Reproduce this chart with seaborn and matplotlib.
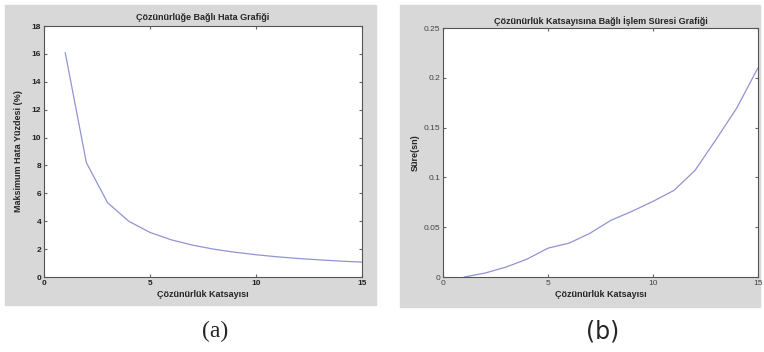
import matplotlib.pyplot as plt
from matplotlib.patches import Rectangle
import seaborn as sns
import pandas as pd

# Çözünürlük katsayısı
katsayi = [1, 2, 3, 4, 5, 6, 7, 8, 9, 10, 11, 12, 13, 14, 15]
# (a) maksimum hata yüzdesi
hata = [16.1, 8.2, 5.33, 4.0, 3.2, 2.67, 2.29, 2.0, 1.78, 1.6, 1.45, 1.33, 1.23, 1.14, 1.07]
# (b) işlem süresi (sn)
sure = [0.0, 0.004, 0.01, 0.018, 0.029, 0.034, 0.044, 0.057, 0.066, 0.076,
        0.087, 0.107, 0.138, 0.170, 0.210]

df = pd.DataFrame({"k": katsayi, "hata": hata, "sure": sure})

sns.set_style("ticks")
plt.rcParams['font.family'] = ['Liberation Sans', 'DejaVu Sans']

fig = plt.figure(figsize=(7.64, 3.52), dpi=100)
gray = "#d8d8d8"
fig.add_artist(Rectangle((0.0065, 0.134), 0.485, 0.852, transform=fig.transFigure,
                         color=gray, zorder=-5))
fig.add_artist(Rectangle((0.524, 0.128), 0.471, 0.858, transform=fig.transFigure,
                         color=gray, zorder=-5))

line_col = "#9094d4"
ax1 = fig.add_axes([0.0576, 0.213, 0.416, 0.713])
ax2 = fig.add_axes([0.580, 0.213, 0.412, 0.707])

sns.lineplot(data=df, x="k", y="hata", ax=ax1, color=line_col, lw=0.9)
ax1.set_xlim(0, 15)
ax1.set_ylim(0, 18)
ax1.set_xticks([0, 5, 10, 15])
ax1.set_yticks(range(0, 19, 2))
ax1.set_title("Çözünürlüğe Bağlı Hata Grafiği", fontsize=6.5, fontweight="bold", pad=4)
ax1.set_xlabel("Çözünürlük Katsayısı", fontsize=6.5, fontweight="bold", labelpad=2)
ax1.set_ylabel("Maksimum Hata Yüzdesi (%)", fontsize=6.5, fontweight="bold", labelpad=6)

sns.lineplot(data=df, x="k", y="sure", ax=ax2, color=line_col, lw=0.9)
ax2.set_xlim(0, 15)
ax2.set_ylim(0, 0.25)
ax2.set_xticks([0, 5, 10, 15])
ax2.set_yticks([0, 0.05, 0.1, 0.15, 0.2, 0.25])
ax2.set_yticklabels(["0", "0.05", "0.1", "0.15", "0.2", "0.25"])
ax2.set_title("Çözünürlük Katsayısına Bağlı İşlem Süresi Grafiği", fontsize=6.5,
              fontweight="bold", pad=3)
ax2.set_xlabel("Çözünürlük Katsayısı", fontsize=6.5, fontweight="bold", labelpad=2)
ax2.set_ylabel("Süre(sn)", fontsize=6.5, fontweight="bold", labelpad=3)

for ax in (ax1, ax2):
    ax.set_facecolor("white")
    ax.tick_params(direction="in", length=2, labelsize=6, top=True, right=True,
                   pad=2, color="#666666", labelcolor="#444444")
    for s in ax.spines.values():
        s.set_visible(True)
        s.set_color("#555555")
        s.set_linewidth(0.8)

for lab in ax1.get_xticklabels() + ax1.get_yticklabels():
    lab.set_fontweight("bold")
    lab.set_color("#222222")

fig.text(0.281, 0.057, "(a)", fontsize=17, family="Liberation Serif", ha="center", va="center")
fig.text(0.789, 0.057, "(b)", fontsize=17, family="DejaVu Sans", ha="center", va="center")

fig.savefig("out.png", dpi=100)
